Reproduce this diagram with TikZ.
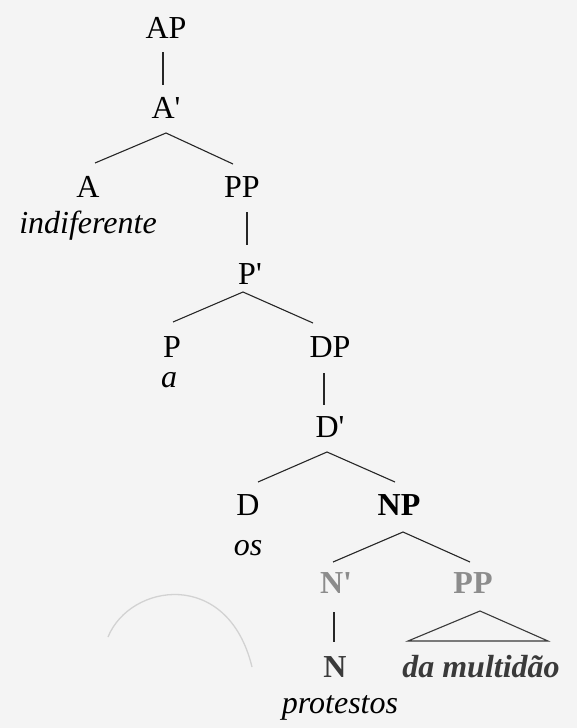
\documentclass[tikz,border=0pt]{standalone}
\usepackage{fontspec}
\setmainfont{Liberation Serif}
\definecolor{paper}{HTML}{F4F4F4}
\definecolor{lightlab}{HTML}{8C8C8C}
\definecolor{darklab}{HTML}{3A3A3A}
\definecolor{arcgray}{HTML}{D2D2D2}
\newcommand{\xbarmark}{\textquotesingle}
\begin{document}
\begin{tikzpicture}[x=1pt,y=-1pt,
  lab/.style={anchor=base,inner sep=0pt,font=\fontsize{32}{32}\selectfont},
  boldlab/.style={lab,font=\fontsize{32}{32}\selectfont\bfseries},
  word/.style={anchor=base,inner sep=0pt,font=\fontsize{32}{32}\selectfont\itshape},
  branch/.style={line width=1.1pt,draw=black!85}]
\fill[paper] (0,0) rectangle (577,728);
\useasboundingbox (0,0) rectangle (577,728);
% labels
\node[lab] (ap) at (166,38) {AP};
\node[lab] (a1) at (166,118) {A\xbarmark};
\node[lab] (a) at (88,197) {A};
\node[lab] (pp) at (242,197) {PP};
\node[word] (indif) at (88,233) {indiferente};
\node[lab] (p1) at (250,284) {P\xbarmark};
\node[lab] (p) at (172,357) {P};
\node[lab] (dp) at (330,357) {DP};
\node[word] (wa) at (169,387) {a};
\node[lab] (d1) at (330,437) {D\xbarmark};
\node[lab] (d) at (248,515) {D};
\node[boldlab] (np) at (399,515) {NP};
\node[word] (os) at (248,555) {os};
\node[boldlab,text=lightlab] (n1) at (336,593) {N\xbarmark};
\node[boldlab,text=lightlab] (pp2) at (473,593) {PP};
\node[boldlab,text=darklab] (n) at (335,677) {N};
\node[word,text=darklab,font=\fontsize{32}{32}\selectfont\bfseries\itshape] (dam) at (481,677) {da multidão};
\node[word] (prot) at (340,713) {protestos};
% branches
\draw[branch] ([shift={(-3,14)}]ap.base) -- ([shift={(-3,-33)}]a1.base);
\draw[branch] ([shift={(7,-34)}]a.base) -- ([shift={(0,15)}]a1.base) -- ([shift={(-9,-33)}]pp.base);
\draw[branch] ([shift={(5,15)}]pp.base) -- ([shift={(-3,-39)}]p1.base);
\draw[branch] ([shift={(1,-35)}]p.base) -- ([shift={(-7,8)}]p1.base) -- ([shift={(-17,-34)}]dp.base);
\draw[branch] ([shift={(-6,16)}]dp.base) -- ([shift={(-6,-32)}]d1.base);
\draw[branch] ([shift={(10,-33)}]d.base) -- ([shift={(-3,15)}]d1.base) -- ([shift={(-4,-33)}]np.base);
\draw[branch] ([shift={(-3,-31)}]n1.base) -- ([shift={(4,17)}]np.base) -- ([shift={(-3,-31)}]pp2.base);
\draw[branch] ([shift={(-2,19)}]n1.base) -- ([shift={(-1,-35)}]n.base);
\draw[branch,draw=darklab,line join=miter] ([shift={(7,18)}]pp2.base) -- ([shift={(-73,-36)}]dam.base) -- ([shift={(67,-36)}]dam.base) -- cycle;
% faint arc
\draw[arcgray,line width=1.3pt] (108,637) .. controls (130,583) and (228,568) .. (252,667);
\end{tikzpicture}
\end{document}
